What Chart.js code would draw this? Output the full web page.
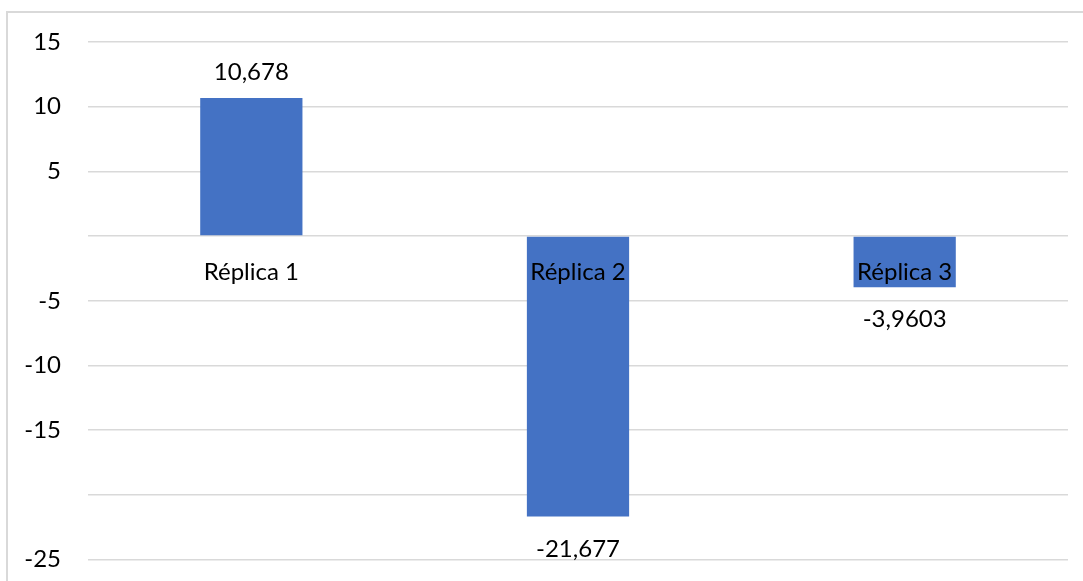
<!DOCTYPE html>
<html>
<head>
<meta charset="utf-8">
<script src="https://cdn.jsdelivr.net/npm/chart.js@4.4.1/dist/chart.umd.min.js"></script>
<style>
  html, body { margin: 0; padding: 0; background: #fff; }
  #wrap { position: relative; width: 1083px; height: 581px; overflow: hidden; }
  #marco {
    position: absolute; left: 6px; top: 11px; width: 1100px; height: 620px;
    border: 2px solid #d9d9d9; box-sizing: border-box;
  }
  #grafica { position: absolute; left: 0; top: 0; }
</style>
</head>
<body>
<div id="wrap">
  <div id="marco"></div>
  <!-- el lienzo es algo más alto que la página: el eje x centrado reserva espacio abajo -->
  <canvas id="grafica" width="1083" height="601"></canvas>
</div>
<script>
// ——— Datos ——————————————————————————————————————————
const categorias = ["Réplica 1", "Réplica 2", "Réplica 3"];
const valores = [10.678, -21.677, -3.9603];
const etiquetasValor = ["10,678", "-21,677", "-3,9603"];
// Excel oculta 0 y -20 en el eje
const etiquetasEje = { "15": "15", "10": "10", "5": "5", "0": "", "-5": "-5", "-10": "-10", "-15": "-15", "-20": "", "-25": "-25" };

const FUENTE = "Lato, 'Open Sans', sans-serif";

// ——— Etiquetas de datos ————————————————————————————
const etiquetasPlugin = {
    id: "etiquetas",
    afterDatasetsDraw(chart) {
        const ctx = chart.ctx;
        const meta = chart.getDatasetMeta(0);
        ctx.save();
        ctx.font = "24px " + FUENTE;
        ctx.fillStyle = "#000";
        ctx.textAlign = "center";
        ctx.textBaseline = "alphabetic";
        meta.data.forEach((bar, i) => {
            const y = valores[i] >= 0 ? bar.y - 18 : bar.y + 40;
            ctx.fillText(etiquetasValor[i], bar.x, y);
        });
        ctx.restore();
    },
};

const ctx = document.getElementById("grafica").getContext("2d");
new Chart(ctx, {
    type: "bar",
    data: {
        labels: categorias,
        datasets: [{
            data: valores,
            backgroundColor: "#4472c4",
            borderWidth: 0,
            barPercentage: 0.313,
            categoryPercentage: 1,
        }],
    },
    options: {
        responsive: false,
        animation: false,
        layout: { padding: { top: 42, right: 15, bottom: 1, left: 0 } },
        plugins: { legend: { display: false }, tooltip: { enabled: false } },
        scales: {
            x: {
                position: { y: 0 },
                grid: { display: false, drawTicks: false },
                border: { display: false },
                ticks: { z: 1, color: "#000", font: { family: FUENTE, size: 24 }, padding: 22, maxRotation: 0 },
                afterFit: (s) => { s.height = 0; },
            },
            y: {
                min: -25,
                max: 15,
                grid: { color: "#d9d9d9", lineWidth: 1.5, drawTicks: false },
                border: { display: false },
                ticks: {
                    stepSize: 5,
                    color: "#000",
                    font: { family: FUENTE, size: 24 },
                    padding: 27,
                    callback: (v) => etiquetasEje[String(v)] ?? String(v),
                },
                afterFit: (s) => { s.width = 88; },
            },
        },
    },
    plugins: [etiquetasPlugin],
});
</script>
</body>
</html>
